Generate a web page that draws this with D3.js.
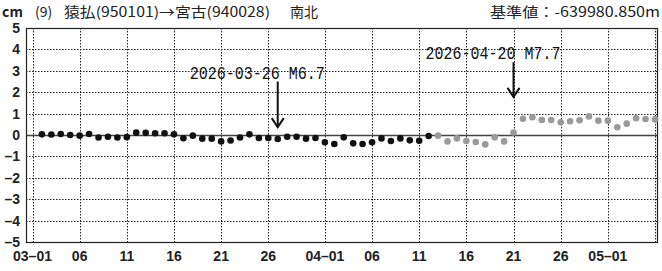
<!DOCTYPE html>
<html>
<head>
<meta charset="utf-8">
<script src="https://cdn.jsdelivr.net/npm/d3@7/dist/d3.min.js"></script>
<style>
  html, body { margin: 0; padding: 0; background: #fff; }
  svg { display: block; }
  .tick-label { font-family: "Liberation Sans Narrow", "Liberation Sans", Arial, sans-serif; font-size: 14px; font-weight: bold; fill: #222; }
  .head { font-family: "Noto Sans CJK JP", sans-serif; font-size: 14px; fill: #222; }
  .quake { font-family: "Liberation Mono", "DejaVu Sans Mono", monospace; font-size: 15px; fill: #111; }
</style>
</head>
<body>
<div id="chart"></div>
<script>
// daily solutions, first day 2026-03-01
const startDate = '2026-03-01';
const finalValues = [
  0.03, 0.02, 0.05, 0.00, -0.03, 0.05, -0.12, -0.08, -0.12, -0.10,
  0.11, 0.10, 0.08, 0.08, 0.03, -0.15, -0.03, -0.17, -0.17, -0.30,
  -0.26, -0.12, 0.03, -0.14, -0.14, -0.19, -0.08, -0.08, -0.17, -0.14,
  -0.34, -0.42, -0.11, -0.39, -0.42, -0.34, -0.16, -0.28, -0.16, -0.25,
  -0.27, -0.05
];
const rapidValues = [
  -0.03, -0.30, -0.16, -0.28, -0.33, -0.44, -0.11, -0.30, 0.12, 0.76,
  0.83, 0.70, 0.70, 0.59, 0.64, 0.69, 0.87, 0.67, 0.67, 0.36,
  0.53, 0.78, 0.75, 0.73
];
const tickDates = ['2026-03-01', '2026-03-06', '2026-03-11', '2026-03-16', '2026-03-21', '2026-03-26',
  '2026-04-01', '2026-04-06', '2026-04-11', '2026-04-16', '2026-04-21', '2026-04-26', '2026-05-01', '2026-05-06'];
const tickLabels = ['03-01', '06', '11', '16', '21', '26', '04-01', '06', '11', '16', '21', '26', '05-01', ''];
const yTicks = [5, 4, 3, 2, 1, 0, -1, -2, -3, -4, -5];
const quakeDates = ['2026-03-26', '2026-04-20'];
const quakeLabels = ['2026-03-26 M6.7', '2026-04-20 M7.7'];
const headerLeft = ['(9)', '猿払(950101)→宮古(940028)', '南北'];
const headerRight = '基準値：-639980.850m';

const width = 662, height = 271;
const frame = { left: 26, right: 657, top: 28, bottom: 242 };

const parse = d3.utcParse('%Y-%m-%d');
const day0 = parse(startDate);

// a day's solution is drawn at the end of that day
const points = finalValues.map((v, i) => ({ date: d3.utcDay.offset(day0, i + 1), value: v, rapid: false }))
  .concat(rapidValues.map((v, i) => ({ date: d3.utcDay.offset(day0, finalValues.length + i + 1), value: v, rapid: true })));

const svg = d3.select('#chart').append('svg')
  .attr('width', width)
  .attr('height', height);

const x = d3.scaleUtc()
  .domain([parse('2026-03-01'), parse('2026-05-06')])
  .range([32.5, 655]);

const y = d3.scaleLinear()
  .domain([-5, 5])
  .range([frame.bottom, frame.top]);

const grid = svg.append('g').attr('class', 'grid');

grid.selectAll('line.h')
  .data(yTicks.filter((d) => d !== 5 && d !== -5 && d !== 0))
  .enter()
  .append('line')
  .attr('x1', frame.left)
  .attr('x2', frame.right)
  .attr('y1', (d) => Math.round(y(d)) + 0.5)
  .attr('y2', (d) => Math.round(y(d)) + 0.5)
  .attr('stroke', '#222')
  .attr('stroke-dasharray', '1.5,1.5');

grid.selectAll('line.v')
  .data(tickDates)
  .enter()
  .append('line')
  .attr('x1', (d) => Math.round(x(parse(d))) + 0.5)
  .attr('x2', (d) => Math.round(x(parse(d))) + 0.5)
  .attr('y1', frame.top)
  .attr('y2', frame.bottom)
  .attr('stroke', '#222')
  .attr('stroke-dasharray', '1.5,1.5');

// zero line
svg.append('line')
  .attr('x1', frame.left)
  .attr('x2', frame.right)
  .attr('y1', y(0) + 0.5)
  .attr('y2', y(0) + 0.5)
  .attr('stroke', '#444')
  .attr('stroke-width', 1.3);

// frame
svg.append('rect')
  .attr('x', frame.left + 0.5)
  .attr('y', frame.top + 0.5)
  .attr('width', frame.right - frame.left)
  .attr('height', frame.bottom - frame.top)
  .attr('fill', 'none')
  .attr('stroke', '#222')
  .attr('stroke-width', 1.2);

// axis labels
svg.append('g')
  .selectAll('text')
  .data(yTicks)
  .enter()
  .append('text')
  .attr('class', 'tick-label')
  .attr('x', 20)
  .attr('y', (d) => y(d) + 5)
  .attr('text-anchor', 'end')
  .text((d) => d < 0 ? '\u2013' + Math.abs(d) : d);

svg.append('g')
  .selectAll('text')
  .data(tickDates)
  .enter()
  .append('text')
  .attr('class', 'tick-label')
  .attr('x', (d) => x(parse(d)))
  .attr('y', 261)
  .attr('text-anchor', 'middle')
  .text((d, i) => tickLabels[i].replace('-', '\u2013'));

// points
svg.append('g')
  .selectAll('circle')
  .data(points)
  .enter()
  .append('circle')
  .attr('cx', (d) => x(d.date))
  .attr('cy', (d) => y(d.value))
  .attr('r', 3.3)
  .attr('fill', (d) => d.rapid ? '#9a9a9a' : '#111');

// earthquakes
const arrowLayout = [
  { top: 2.5, tip: 0.37, text: 2.6 },
  { top: 3.4, tip: 1.78, text: 3.55 }
];
const quakes = svg.append('g')
  .selectAll('g')
  .data(quakeDates)
  .enter()
  .append('g');

quakes.append('line')
  .attr('x1', (d) => x(d3.utcDay.offset(parse(d), 1)))
  .attr('x2', (d) => x(d3.utcDay.offset(parse(d), 1)))
  .attr('y1', (d, i) => y(arrowLayout[i].top))
  .attr('y2', (d, i) => y(arrowLayout[i].tip))
  .attr('stroke', '#111')
  .attr('stroke-width', 2);

quakes.append('path')
  .attr('d', (d, i) => {
    const ax = x(d3.utcDay.offset(parse(d), 1));
    const ay = y(arrowLayout[i].tip);
    return `M${ax - 6},${ay - 9}L${ax},${ay}L${ax + 6},${ay - 9}`;
  })
  .attr('fill', 'none')
  .attr('stroke', '#111')
  .attr('stroke-width', 2);

quakes.append('text')
  .attr('class', 'quake')
  .attr('text-anchor', 'end')
  .attr('transform', (d, i) => `translate(${x(d3.utcDay.offset(parse(d), 1)) + 47}, ${y(arrowLayout[i].text)}) scale(1, 1.25)`)
  .text((d, i) => quakeLabels[i]);

// header
svg.append('text')
  .attr('class', 'head')
  .attr('x', 2)
  .attr('y', 17)
  .attr('font-weight', 'bold')
  .attr('font-size', 13)
  .text('cm');

const headerX = [35, 64, 290];
const headerW = [null, 206, null];
svg.append('g')
  .selectAll('text')
  .data(headerLeft)
  .enter()
  .append('text')
  .attr('class', 'head')
  .attr('x', (d, i) => headerX[i])
  .attr('y', 17)
  .attr('textLength', (d, i) => headerW[i])
  .attr('lengthAdjust', 'spacingAndGlyphs')
  .text((d) => d);

svg.append('text')
  .attr('class', 'head')
  .attr('x', 490)
  .attr('y', 17)
  .attr('textLength', 170)
  .attr('lengthAdjust', 'spacingAndGlyphs')
  .text(headerRight);
</script>
</body>
</html>
